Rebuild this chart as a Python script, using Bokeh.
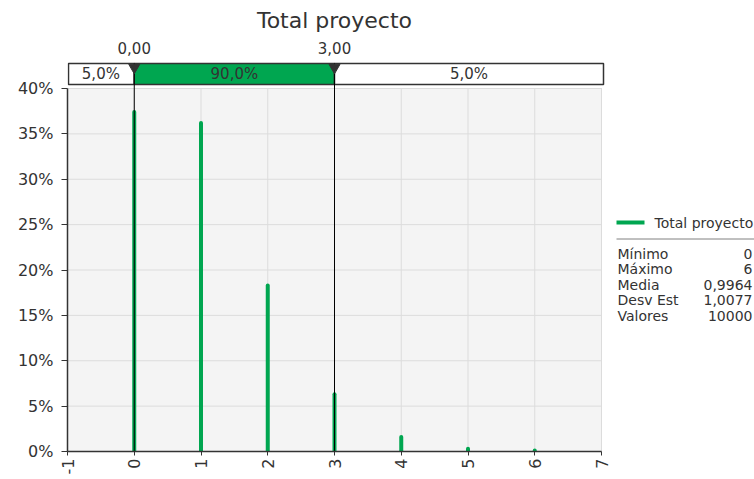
from math import pi
from bokeh.plotting import figure
from bokeh.models import Range1d, FixedTicker, PrintfTickFormatter, ColumnDataSource
from bokeh.core.properties import value
from bokeh.embed import file_html
from bokeh.resources import INLINE

# ---------------- data ----------------
chart_title = "Total proyecto"
series_name = "Total proyecto"
values_x = [0, 1, 2, 3, 4, 5, 6]
probs_pct = [37.4, 36.2, 18.3, 6.3, 1.6, 0.3, 0.1]
x_ticks = [-1, 0, 1, 2, 3, 4, 5, 6, 7]
y_ticks = [0, 5, 10, 15, 20, 25, 30, 35, 40]
lower_val, upper_val = 0.0, 3.0
lower_label, upper_label = "0,00", "3,00"
band_labels = ["5,0%", "90,0%", "5,0%"]
stat_names = ["Mínimo", "Máximo", "Media", "Desv Est", "Valores"]
stat_values = ["0", "6", "0,9964", "1,0077", "10000"]

# ---------------- layout / style ----------------
GREEN = "#00a650"
DARK = "#333333"
TXT = "#333333"
FONT = "DejaVu Sans"
W, H = 754, 479
LB, BB = 67, 28            # left / bottom border (px)
PLOT_W_PX, PLOT_H_PX = 534, 363
X0, X1 = x_ticks[0], x_ticks[-1]
Y0, Y1 = y_ticks[0], y_ticks[-1]
UNIT = PLOT_W_PX / (X1 - X0)          # px per x unit
YPX = PLOT_H_PX / (Y1 - Y0)           # px per y unit
FRAME_W, FRAME_H = W - LB, H - BB
x_end = X0 + FRAME_W / UNIT
y_end = Y0 + FRAME_H / YPX


def X(px):   # canvas px -> x data (for decorations)
    return X0 + (px - LB) / UNIT


def Y(py):   # canvas px -> y data (for decorations)
    return Y0 + (FRAME_H - py) / YPX


p = figure(width=W, height=H, x_range=Range1d(X0, x_end), y_range=Range1d(Y0, y_end),
           output_backend="svg", toolbar_location=None,
           min_border_left=LB, min_border_right=0, min_border_top=0, min_border_bottom=BB)
p.background_fill_color = "white"
p.border_fill_color = "white"
p.outline_line_color = None
p.xgrid.visible = False
p.ygrid.visible = False

# plot area background + grid
p.quad(left=[X0], right=[X1], bottom=[Y0], top=[Y1], fill_color="#f4f4f4",
       line_color="#d4d4d4", line_width=1)
p.segment(x0=x_ticks, y0=[Y0] * len(x_ticks), x1=x_ticks, y1=[Y1] * len(x_ticks),
          line_color="#dcdcdc", line_width=1)
p.segment(x0=[X0] * len(y_ticks), y0=y_ticks, x1=[X1] * len(y_ticks), y1=y_ticks,
          line_color="#dcdcdc", line_width=1)

# axes
p.xaxis.ticker = FixedTicker(ticks=x_ticks)
p.xaxis.formatter = PrintfTickFormatter(format="%d")
p.xaxis.bounds = (X0, X1)
p.yaxis.ticker = FixedTicker(ticks=y_ticks)
p.yaxis.formatter = PrintfTickFormatter(format="%d%%")
p.yaxis.bounds = (Y0, Y1)
for ax in (p.xaxis[0], p.yaxis[0]):
    ax.axis_line_color = DARK
    ax.axis_line_width = 1.5
    ax.major_tick_line_color = DARK
    ax.major_tick_in = 0
    ax.minor_tick_line_color = None
    ax.major_label_text_font = FONT
    ax.major_label_text_font_size = "16px"
    ax.major_label_text_color = TXT
p.yaxis.major_tick_out = 6
p.yaxis.major_label_standoff = 8
p.xaxis.major_tick_out = 4
p.xaxis.major_label_standoff = 3
p.xaxis.major_label_orientation = pi / 2

# distribution bars
p.segment(x0=values_x, y0=[Y0] * len(values_x), x1=values_x, y1=probs_pct,
          line_color=GREEN, line_width=4, line_cap="round")

# delimiter bar above the plot
box_bottom, box_top = Y(84), Y(63)
bx0, bx1 = X0 + 1 / UNIT, X1 + 2 / UNIT
band_src = ColumnDataSource(dict(
    left=[bx0, lower_val, upper_val], right=[lower_val, upper_val, bx1],
    color=["white", GREEN, "white"], label=band_labels,
    cx=[(X0 + lower_val) / 2, (lower_val + upper_val) / 2, (upper_val + bx1) / 2]))
p.quad(left="left", right="right", bottom=box_bottom, top=box_top, fill_color="color",
       line_color=DARK, line_width=1.5, source=band_src)
p.text(x="cx", y=(box_bottom + box_top) / 2, text="label", source=band_src,
       text_align="center", text_baseline="middle", text_font=value(FONT),
       text_font_size="15px", text_color=TXT)

# delimiter lines, markers and labels
p.segment(x0=[lower_val, upper_val], y0=[Y0, Y0], x1=[lower_val, upper_val],
          y1=[box_top, box_top], line_color="black", line_width=1)
p.scatter(x=[lower_val, upper_val], y=[Y(67)] * 2, marker="inverted_triangle", size=11,
          fill_color=DARK, line_color=DARK)
p.text(x=[lower_val, upper_val], y=[Y(47)] * 2, text=[lower_label, upper_label],
       text_align="center", text_baseline="middle", text_font=value(FONT),
       text_font_size="15px", text_color=TXT)

# title
p.text(x=[(X0 + X1) / 2], y=[Y(20)], text=[chart_title], text_align="center",
       text_baseline="middle", text_font=value(FONT), text_font_size="22px",
       text_color=TXT)

# legend + statistics
p.segment(x0=[X(616)], y0=[Y(222)], x1=[X(644)], y1=[Y(222)], line_color=GREEN,
          line_width=4)
p.text(x=[X(654)], y=[Y(222)], text=[series_name], text_baseline="middle",
       text_font=value(FONT), text_font_size="14px", text_color=TXT)
p.segment(x0=[X(616)], y0=[Y(238.5)], x1=[X(W)], y1=[Y(238.5)], line_color="#808080",
          line_width=1)
row_y = [Y(253.5 + 15.4 * i) for i in range(len(stat_names))]
p.text(x=[X(617)] * len(stat_names), y=row_y, text=stat_names, text_baseline="middle",
       text_font=value(FONT), text_font_size="14px", text_color=TXT)
p.text(x=[X(752)] * len(stat_values), y=row_y, text=stat_values, text_baseline="middle",
       text_align="right", text_font=value(FONT), text_font_size="14px", text_color=TXT)

open("out.html", "w").write(file_html(p, INLINE))
